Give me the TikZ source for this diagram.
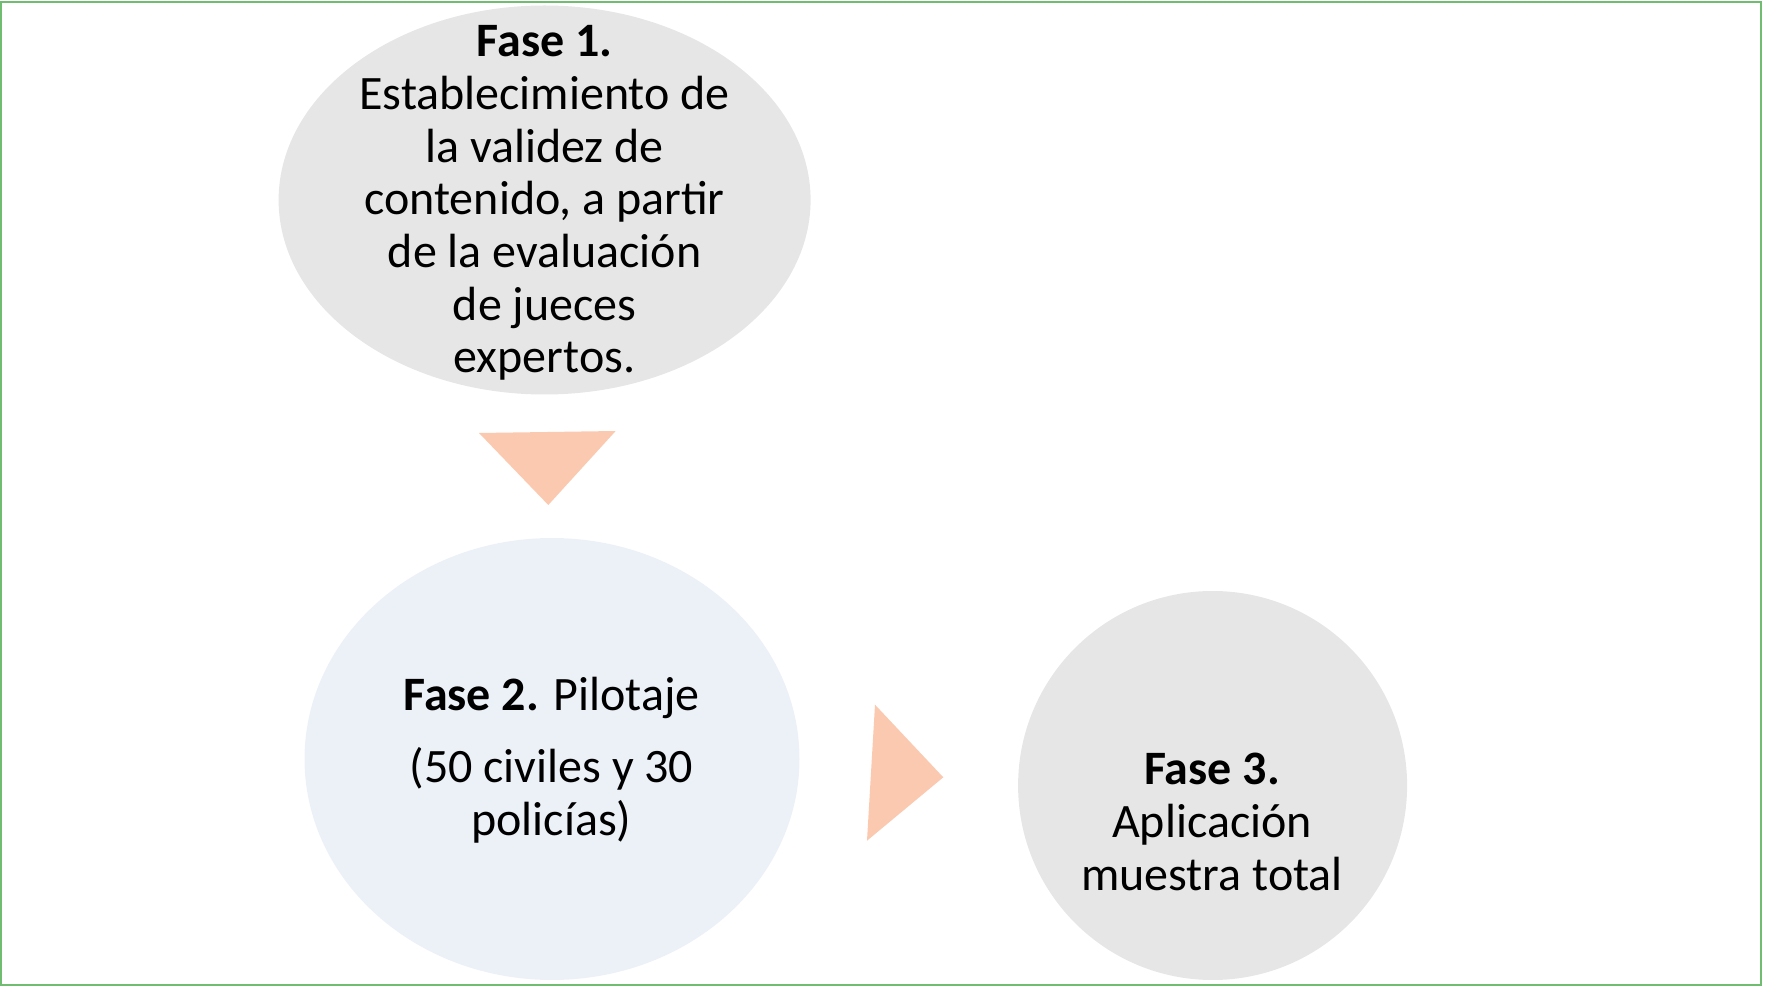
\documentclass[tikz,border=0pt]{standalone}
\usepackage{fontspec}
\setmainfont{Carlito}
\usetikzlibrary{shapes.geometric}
\definecolor{framegreen}{RGB}{112,188,112}
\definecolor{grayfill}{RGB}{231,230,230}
\definecolor{bluefill}{RGB}{236,241,248}
\definecolor{arrowfill}{RGB}{250,201,175}
\begin{document}
\begin{tikzpicture}[x=0.75pt,y=-0.75pt,
  phase/.style={ellipse, inner sep=0pt, draw=none},
  txt/.style={align=center, font=\fontsize{36}{39.5}\selectfont, inner sep=0pt},
  arrowtri/.style={fill=arrowfill, draw=none}]
\useasboundingbox (0,0) rectangle (1768,987);
\draw[framegreen, line width=1.5pt] (1,2) rectangle (1761,985);
\node[phase, fill=grayfill, minimum width=399pt, minimum height=291.75pt] (e1) at (544.6,200) {};
\node[phase, fill=bluefill, minimum width=371.25pt, minimum height=331.5pt] (e2) at (552,759) {};
\node[phase, fill=grayfill, minimum width=291.75pt, minimum height=291.75pt] (e3) at (1212.6,785.5) {};
\node[txt] (t1) at (544.6,203) {\textbf{Fase 1.}\\Establecimiento de\\la validez de\\contenido, a partir\\de la evaluación\\de jueces\\expertos.};
\node[txt] (t2) at (551.4,760) {\textbf{Fase 2.} Pilotaje\\[15pt](50 civiles y 30\\policías)};
\node[txt] (t3) at (1212,822) {\textbf{Fase 3.}\\Aplicación\\muestra total};
\fill[arrowtri] (479,433) -- (615.7,431) -- (548.3,505) -- cycle;
\fill[arrowtri] (875,704.7) -- (943.3,777.3) -- (867,840.7) -- cycle;
\end{tikzpicture}
\end{document}
